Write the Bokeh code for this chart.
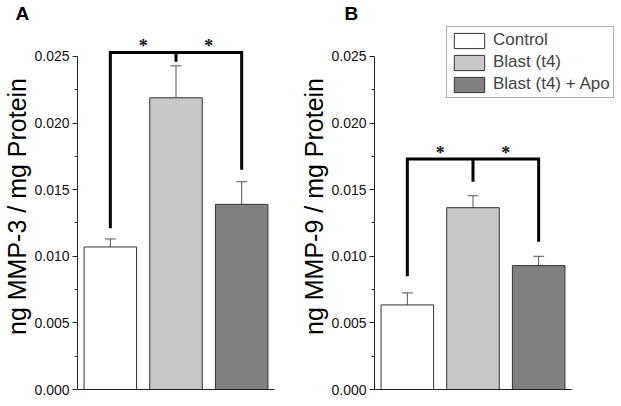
from bokeh.plotting import figure
from bokeh.models import (Range1d, FixedTicker, NumeralTickFormatter, LinearAxis,
                          Whisker, TeeHead, ColumnDataSource, Legend, LegendItem, Title)
from bokeh.layouts import row
from bokeh.embed import file_html
from bokeh.resources import INLINE

# ---------------- data ----------------
groups = ["Control", "Blast (t4)", "Blast (t4) + Apo"]
x_pos = [1, 2, 3]
mmp3_mean = [0.0107, 0.0219, 0.0139]
mmp3_err = [0.0006, 0.0024, 0.0017]
mmp9_mean = [0.00635, 0.01365, 0.0093]
mmp9_err = [0.0009, 0.0009, 0.0007]
bar_colors = ["#ffffff", "#c8c8c8", "#808080"]
y_ticks = [0.0, 0.005, 0.010, 0.015, 0.020, 0.025]
y_minor = [0.0025, 0.0075, 0.0125, 0.0175, 0.0225]
# significance brackets: top line and drop ends (control, blast, apo)
mmp3_bracket_top = 0.0253
mmp3_bracket_ends = [0.0121, 0.0246, 0.0165]
mmp9_bracket_top = 0.0173
mmp9_bracket_ends = [0.0085, 0.0156, 0.0111]
star_x = [1.5, 2.5]

FONT = "Liberation Sans"
AX = "#222222"
FRAME_H = 366
Y_END = 0.027477


def make_panel(letter, letter_off, ylabel, mean, err, br_top, br_ends, fw, x_end, br, legend=False):
    src = ColumnDataSource(dict(x=x_pos, top=mean, upper=[m + e for m, e in zip(mean, err)],
                                lower=[m - e for m, e in zip(mean, err)],
                                color=bar_colors, group=groups))
    p = figure(frame_width=fw, frame_height=FRAME_H, output_backend="svg", toolbar_location=None,
               x_range=Range1d(0.5, x_end), y_range=Range1d(0, Y_END),
               x_axis_type=None, y_axis_type=None,
               min_border_left=72, min_border_right=br, min_border_top=0, min_border_bottom=8)
    p.outline_line_color = None
    p.xgrid.visible = False
    p.ygrid.visible = False
    p.background_fill_color = "white"
    p.border_fill_color = "white"

    t = Title(text=letter, align="left", offset=letter_off, standoff=0, text_font=FONT,
              text_font_size="19px", text_font_style="bold", text_color="black")
    p.add_layout(t, "above")

    yax = LinearAxis(ticker=FixedTicker(ticks=y_ticks, minor_ticks=y_minor),
                     formatter=NumeralTickFormatter(format="0.000"),
                     bounds=(0, 0.025), axis_label=ylabel)
    yax.axis_label_text_font = FONT
    yax.axis_label_text_font_size = "25px"
    yax.axis_label_text_font_style = "normal"
    yax.axis_label_text_color = "black"
    yax.axis_label_standoff = 0
    yax.major_label_text_font = FONT
    yax.major_label_text_font_size = "14px"
    yax.major_label_text_color = "#111111"
    yax.major_label_standoff = 3
    yax.major_tick_out = 5
    yax.major_tick_in = 0
    yax.minor_tick_out = 3
    yax.minor_tick_in = 0
    yax.axis_line_color = AX
    yax.major_tick_line_color = AX
    yax.minor_tick_line_color = AX
    p.add_layout(yax, "left")

    xax = LinearAxis(ticker=FixedTicker(ticks=[]), bounds=(0.5, 3.5))
    xax.axis_line_color = AX
    xax.major_tick_line_color = None
    xax.minor_tick_line_color = None
    xax.major_tick_out = 0
    xax.major_label_text_font_size = "0px"
    xax.major_label_standoff = 0
    p.add_layout(xax, "below")

    bars = p.vbar(x="x", top="top", width=0.8, source=src, fill_color="color",
                  line_color="#333333", line_width=1)

    p.add_layout(Whisker(base="x", upper="upper", lower="lower", source=src,
                         line_color="#555555", line_width=1,
                         upper_head=TeeHead(size=11, line_color="#555555", line_width=1),
                         lower_head=TeeHead(size=11, line_color="#555555", line_width=1)))

    p.multi_line(xs=[[x_pos[0], x_pos[0], x_pos[2], x_pos[2]], [x_pos[1], x_pos[1]]],
                 ys=[[br_ends[0], br_top, br_top, br_ends[2]], [br_top, br_ends[1]]],
                 line_color="black", line_width=3, line_join="miter")
    p.text(x=star_x, y=[br_top, br_top], text=["*", "*"], text_align="center",
           text_baseline="alphabetic", y_offset=-6, text_font_size="18px",
           text_font_style="bold", text_font=FONT, text_color="#111111")

    if legend:
        lg = Legend(items=[LegendItem(label=g, renderers=[bars], index=i) for i, g in enumerate(groups)],
                    location=(72, 291))
        lg.glyph_width = 38
        lg.glyph_height = 19
        lg.label_height = 19
        lg.label_text_font = FONT
        lg.label_text_font_size = "17px"
        lg.label_standoff = 5
        lg.padding = 3
        lg.spacing = 2
        lg.margin = 0
        lg.border_line_color = "#666666"
        lg.border_line_width = 1
        lg.background_fill_alpha = 1
        p.add_layout(lg, "center")
    return p


pA = make_panel("A", -62, "ng MMP-3 / mg Protein", mmp3_mean, mmp3_err, mmp3_bracket_top,
                mmp3_bracket_ends, 197, 3.5, 23)
pB = make_panel("B", -30, "ng MMP-9 / mg Protein", mmp9_mean, mmp9_err, mmp9_bracket_top,
                mmp9_bracket_ends, 241, 0.5 + 241 / (197 / 3), 0, legend=True)

layout = row(pA, pB)
open("out.html", "w").write(file_html(layout, INLINE))
